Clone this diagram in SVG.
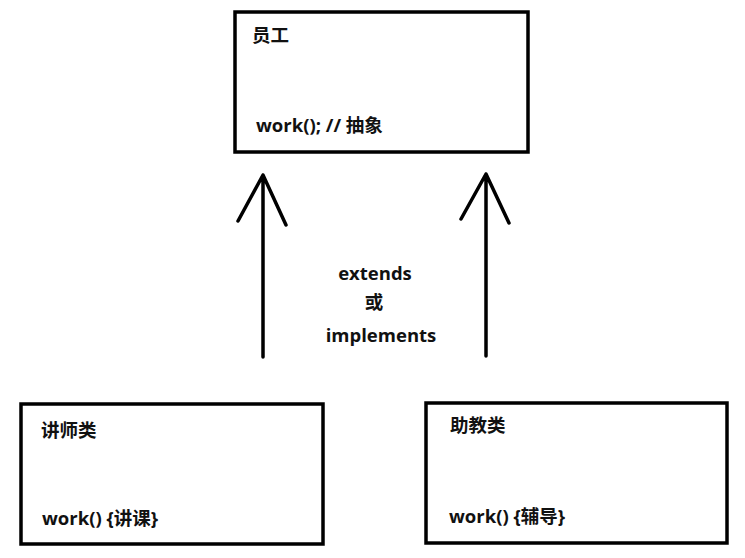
<svg xmlns="http://www.w3.org/2000/svg" width="745" height="558" viewBox="0 0 745 558">
<defs>
<style>
.box{fill:#fff;stroke:#000;stroke-width:3.5}
.t{font-family:"Open Sans","Noto Sans CJK SC",sans-serif;font-weight:bold;font-size:18.5px;fill:#111}
.c{text-anchor:middle}
.ln{stroke:#000;stroke-width:3.5;fill:none;stroke-linecap:round;stroke-linejoin:round}
</style>
</defs>
<rect width="745" height="558" fill="#fff"/>
<g id="employee">
<rect class="box" x="235" y="12" width="293" height="140"/>
<text class="t" x="252" y="42">员工</text>
<text class="t" x="256" y="132">work(); // 抽象</text>
</g>
<g id="teacher">
<rect class="box" x="21" y="404" width="302" height="140"/>
<text class="t" x="41" y="437">讲师类</text>
<text class="t" x="42" y="525">work() {讲课}</text>
</g>
<g id="assistant">
<rect class="box" x="426" y="403" width="301" height="140"/>
<text class="t" x="450" y="432">助教类</text>
<text class="t" x="449" y="523">work() {辅导}</text>
</g>
<g id="connectors">
<path class="ln" d="M263 357 L263 175 M238 221 L263 175 L286 225"/>
<path class="ln" d="M486 356 L486 174 M461 219 L486 174 L509 223"/>
<text class="t c" x="375" y="280">extends</text>
<text class="t c" x="374" y="309">或</text>
<text class="t c" x="381" y="342">implements</text>
</g>
</svg>
